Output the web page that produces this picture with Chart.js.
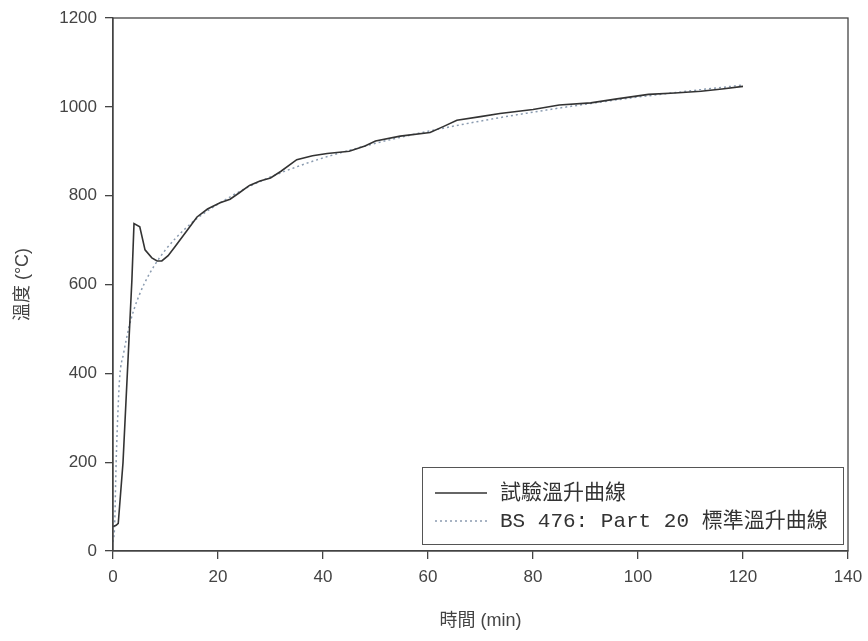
<!DOCTYPE html>
<html>
<head>
<meta charset="utf-8">
<script src="https://cdn.jsdelivr.net/npm/chart.js@4"></script>
<style>
body{margin:0;background:#fff;}
#wrap{width:868px;height:641px;}
</style>
</head>
<body>
<div id="wrap"><canvas id="Chart"></canvas></div>
<script>
// test curve
var testTime=[0,0.6,1.0,1.9,3.6,4,5.1,6.1,7.4,8.4,9.3,10.5,11.8,14,16,18,20.4,22.3,24,26,28,30,32,35,38,40.8,45,48,50,54.7,60.4,63,65.5,70,73.7,80,85,91,96,102,107,112,116,120];
var testTemp=[55,58,62,198,610,737,730,678,660,653,653,665,685,720,752,770,784,792,806,823,833,840,855,881,890,895,900,912,923,934,942,956,970,978,985,994,1004,1009,1018,1028,1031,1035,1040,1046];
// BS 476 Part 20 standard curve
var stdTime=[0,0.3,0.6,1,1.3,2,3,4,5,6,8,10,12,15,18,20,25,30,35,40,45,50,55,60,70,80,90,100,110,120];
var stdTemp=[20,55,200,330,395,444,502,544,576,603,645,678,705,739,766,781,815,842,865,885,902,918,932,945,968,988,1006,1022,1036,1049];

var xTicks=[0,20,40,60,80,100,120,140];
var yTicks=[0,200,400,600,800,1000,1200];
var legendLabels=["試驗溫升曲線","BS 476: Part 20 標準溫升曲線"];

function pts(t,v){
    var out=[];
    for(var i=0;i<t.length;i++) out.push({x:t[i],y:v[i]});
    return out;
}

const frameAndLegend={
    id:"frameAndLegend",
    afterDraw(chart){
        const ctx=chart.ctx;
        const a=chart.chartArea;
        ctx.save();
        ctx.strokeStyle="#444";
        ctx.lineWidth=1.3;
        ctx.strokeRect(a.left,a.top,a.right-a.left,a.bottom-a.top);
        // legend box
        ctx.strokeStyle="#555";
        ctx.lineWidth=1;
        ctx.strokeRect(422.5,467.5,421,77);
        ctx.lineWidth=1.6;
        ctx.strokeStyle="#333";
        ctx.beginPath();ctx.moveTo(435,493);ctx.lineTo(487,493);ctx.stroke();
        ctx.lineWidth=1.5;
        ctx.strokeStyle="#8a9bb0";
        ctx.setLineDash([2,3]);
        ctx.beginPath();ctx.moveTo(435,521);ctx.lineTo(487,521);ctx.stroke();
        ctx.setLineDash([]);
        ctx.fillStyle="#333";
        ctx.font='21px "Liberation Mono", "Noto Sans CJK TC"';
        ctx.textBaseline="middle";
        ctx.fillText(legendLabels[0],500,493);
        ctx.fillText(legendLabels[1],500,521);
        ctx.restore();
    }
};

var myChart;
function init_chart()
{
    const ctx=document.getElementById("Chart");
    myChart=new Chart(ctx,{
        type:"scatter",
        data:{
            datasets:[
                {
                label:legendLabels[0],
                data:pts(testTime,testTemp),
                showLine:true,
                borderColor:"#333",
                borderWidth:1.6,
                pointRadius:0,
                tension:0,
                fill:false
                },
                {
                label:legendLabels[1],
                data:pts(stdTime,stdTemp),
                showLine:true,
                borderColor:"#8a9bb0",
                borderWidth:1.5,
                borderDash:[2,3],
                pointRadius:0,
                cubicInterpolationMode:"monotone",
                fill:false
                }
            ]
        },
        options:{
            animation:false,
            maintainAspectRatio:false,
            responsive:true,
            layout:{padding:{left:0,right:20,top:18,bottom:0}},
            plugins:{legend:{display:false},tooltip:{enabled:false}},
            scales:{
                x:{
                    type:"linear",min:0,max:140,
                    afterBuildTicks:function(s){s.ticks=xTicks.map(function(v){return {value:v};});},
                    afterFit:function(s){s.height=90;s.paddingRight=0;s.paddingLeft=0;},
                    grid:{drawOnChartArea:false,drawTicks:true,tickLength:8,color:"#444",lineWidth:1.3},
                    border:{display:true,color:"#444",width:1.3},
                    ticks:{color:"#444",font:{family:"Liberation Sans",size:17},padding:8,maxRotation:0,callback:function(v){return String(v);}},
                    title:{display:true,text:"時間 (min)",color:"#444",font:{family:"Liberation Sans, Noto Sans CJK TC",size:18},padding:{top:4,bottom:9}}
                },
                y:{
                    type:"linear",min:0,max:1200,
                    afterBuildTicks:function(s){s.ticks=yTicks.map(function(v){return {value:v};});},
                    afterFit:function(s){s.width=113;s.paddingTop=0;s.paddingBottom=0;},
                    grid:{drawOnChartArea:false,drawTicks:true,tickLength:8,color:"#444",lineWidth:1.3},
                    border:{display:true,color:"#444",width:1.3},
                    ticks:{color:"#444",font:{family:"Liberation Sans",size:17},padding:8,callback:function(v){return String(v);}},
                    title:{display:true,text:"溫度 (°C)",color:"#444",font:{family:"Liberation Sans, Noto Sans CJK TC",size:18},padding:{top:12,bottom:4}}
                }
            }
        },
        plugins:[frameAndLegend]
    });
}
init_chart();
</script>
</body>
</html>
